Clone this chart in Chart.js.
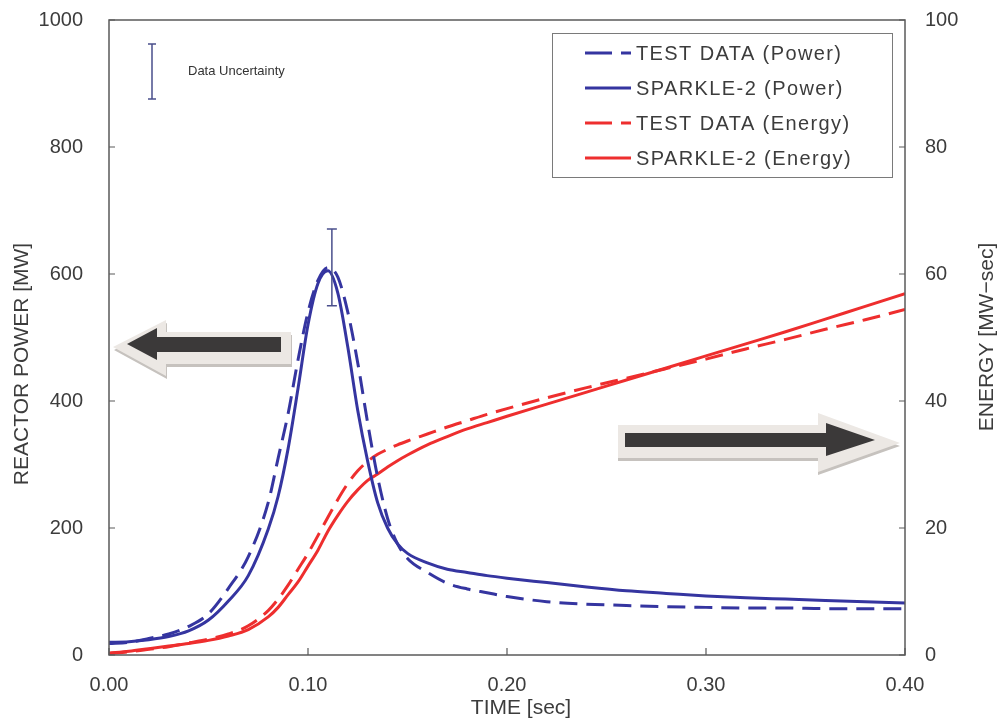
<!DOCTYPE html>
<html>
<head>
<meta charset="utf-8">
<script src="https://cdn.jsdelivr.net/npm/chart.js@4.4.1/dist/chart.umd.min.js"></script>
<style>
body{margin:0;background:#fff}
</style>
</head>
<body>
<canvas id="myChart" width="999" height="726"></canvas>
<script>
// -----------------------DADOS---------------------
const tempo = [0, 0.01, 0.02, 0.03, 0.04, 0.05, 0.06, 0.07, 0.08, 0.085, 0.09, 0.095, 0.10, 0.105, 0.11, 0.115, 0.12, 0.125, 0.13, 0.135, 0.14, 0.145, 0.15, 0.16, 0.17, 0.18, 0.19, 0.20, 0.22, 0.24, 0.26, 0.28, 0.30, 0.32, 0.34, 0.36, 0.38, 0.40]

const potTeste   = [18, 20, 26, 33, 45, 65, 105, 155, 240, 310, 380, 465, 540, 590, 610, 595, 540, 460, 365, 280, 215, 175, 152, 130, 113, 104, 98, 92, 84, 80, 78, 76, 75, 74, 74, 73, 73, 73]
const potSparkle = [20, 21, 24, 29, 38, 55, 85, 125, 198, 250, 325, 420, 520, 585, 605, 570, 485, 385, 305, 240, 200, 175, 160, 145, 135, 130, 125, 121, 114, 107, 101, 97, 93, 90, 88, 86, 84, 82]

const enTeste   = [0.2, 0.5, 0.9, 1.3, 1.9, 2.5, 3.3, 4.6, 7.0, 8.8, 11.0, 13.5, 16.0, 18.8, 21.7, 24.5, 27.0, 29.0, 30.5, 31.6, 32.4, 33.1, 33.7, 34.8, 35.9, 36.9, 37.9, 38.8, 40.5, 42.1, 43.6, 45.1, 46.6, 48.2, 49.7, 51.3, 52.8, 54.4]
const enSparkle = [0.3, 0.6, 1.0, 1.4, 1.8, 2.3, 3.0, 4.0, 6.0, 7.5, 9.5, 11.5, 14.0, 16.5, 19.5, 22.0, 24.2, 26.0, 27.5, 28.5, 29.6, 30.6, 31.5, 33.1, 34.4, 35.6, 36.6, 37.6, 39.5, 41.4, 43.3, 45.2, 47.1, 49.0, 50.9, 52.9, 54.9, 56.9]

const ticksTempo = [0, 0.1, 0.2, 0.3, 0.4]
const ticksPot   = [0, 200, 400, 600, 800, 1000]
const ticksEn    = [0, 20, 40, 60, 80, 100]

// barra de incerteza no pico
const erroT = 0.112
const erroMin = 550
const erroMax = 671

const legendas = ['TEST DATA (Power)', 'SPARKLE-2 (Power)', 'TEST DATA (Energy)', 'SPARKLE-2 (Energy)']
//---------------------------------------------------------------

const AZUL = '#3535a0'
const VERMELHO = '#ee2e2e'
const TEXTO = '#3c3c3c'
const FONTE = '"Liberation Sans", Arial, sans-serif'

function pontos(arr){
    return tempo.map((t, i) => ({x: t, y: arr[i]}))
}

function poligono(ctx, pts, cor){
    ctx.beginPath()
    ctx.moveTo(pts[0][0], pts[0][1])
    for(let i = 1; i < pts.length; i++) ctx.lineTo(pts[i][0], pts[i][1])
    ctx.closePath()
    ctx.fillStyle = cor
    ctx.fill()
}

function seta(ctx, externo, interno, dx, dy){
    poligono(ctx, externo.map(p => [p[0] + dx, p[1] + dy]), '#c6c2be')
    poligono(ctx, externo, '#ece8e4')
    poligono(ctx, interno, '#3b3939')
}

// sem padding extra dos rótulos, área do gráfico fixa
function fixarPadding(s){
    s.paddingTop = 0
    s.paddingBottom = 0
    s.paddingLeft = 0
    s.paddingRight = 0
}

const extras = {
    id: 'extras',
    beforeDatasetsDraw(chart){
        const ctx = chart.ctx
        ctx.save()
        //seta esquerda
        seta(ctx,
            [[113,347],[166,320],[166,332],[291,332],[291,364],[166,364],[166,376]],
            [[127,344],[157,328],[157,337],[281,337],[281,352],[157,352],[157,360]], 1, 3)
        //seta direita
        seta(ctx,
            [[900,443],[818,413],[818,425],[618,425],[618,458],[818,458],[818,472]],
            [[875,440],[826,423],[826,433],[625,433],[625,447],[826,447],[826,456]], 0, 3)
        ctx.restore()
    },
    afterDatasetsDraw(chart){
        const ctx = chart.ctx
        const a = chart.chartArea
        const sx = chart.scales.x, sy = chart.scales.y, sy2 = chart.scales.y2
        ctx.save()

        //moldura do gráfico
        ctx.strokeStyle = '#5a5a5a'
        ctx.lineWidth = 1.5
        ctx.strokeRect(a.left, a.top, a.right - a.left, a.bottom - a.top)

        //ticks para dentro
        ctx.lineWidth = 1.2
        ctx.beginPath()
        ticksTempo.forEach(v => {
            const px = sx.getPixelForValue(v)
            ctx.moveTo(px, a.bottom); ctx.lineTo(px, a.bottom - 7)
        })
        ticksPot.forEach(v => {
            const py = sy.getPixelForValue(v)
            ctx.moveTo(a.left, py); ctx.lineTo(a.left + 6, py)
        })
        ticksEn.forEach(v => {
            const py = sy2.getPixelForValue(v)
            ctx.moveTo(a.right, py); ctx.lineTo(a.right - 6, py)
        })
        ctx.stroke()

        //barra de erro do pico
        ctx.strokeStyle = '#4a4f8c'
        ctx.lineWidth = 1.5
        const ex = sx.getPixelForValue(erroT)
        const e1 = sy.getPixelForValue(erroMax), e2 = sy.getPixelForValue(erroMin)
        ctx.beginPath()
        ctx.moveTo(ex, e1); ctx.lineTo(ex, e2)
        ctx.moveTo(ex - 5, e1); ctx.lineTo(ex + 5, e1)
        ctx.moveTo(ex - 5, e2); ctx.lineTo(ex + 5, e2)
        ctx.stroke()

        //Data Uncertainty
        ctx.beginPath()
        ctx.moveTo(152, 44); ctx.lineTo(152, 99)
        ctx.moveTo(148, 44); ctx.lineTo(156, 44)
        ctx.moveTo(148, 99); ctx.lineTo(156, 99)
        ctx.stroke()
        ctx.fillStyle = '#333'
        ctx.font = '13px ' + FONTE
        ctx.textBaseline = 'middle'
        ctx.textAlign = 'left'
        ctx.fillText('Data Uncertainty', 188, 71)

        //legenda
        ctx.fillStyle = '#fff'
        ctx.fillRect(552, 33, 340, 144)
        ctx.strokeStyle = '#7a7a7a'
        ctx.lineWidth = 1
        ctx.strokeRect(552.5, 33.5, 340, 144)
        chart.data.datasets.forEach((ds, i) => {
            const y = 53 + i * 35
            ctx.strokeStyle = ds.borderColor
            ctx.lineWidth = 3
            ctx.beginPath()
            if(ds.borderDash && ds.borderDash.length){
                ctx.moveTo(585, y); ctx.lineTo(612, y)
                ctx.moveTo(621, y); ctx.lineTo(631, y)
            }else{
                ctx.moveTo(585, y); ctx.lineTo(631, y)
            }
            ctx.stroke()
            ctx.fillStyle = TEXTO
            ctx.font = '20px ' + FONTE
            ctx.letterSpacing = '1.4px'
            ctx.fillText(ds.label, 636, y + 1)
            ctx.letterSpacing = '0px'
        })
        ctx.restore()
    },
    afterDraw(chart){
        const ctx = chart.ctx
        ctx.save()
        ctx.fillStyle = TEXTO
        ctx.font = '21px ' + FONTE
        ctx.textAlign = 'center'
        ctx.textBaseline = 'middle'
        ctx.fillText('TIME [sec]', 521, 708)

        ctx.translate(22, 364)
        ctx.rotate(-Math.PI / 2)
        ctx.fillText('REACTOR POWER [MW]', 0, 0)
        ctx.restore()

        ctx.save()
        ctx.fillStyle = TEXTO
        ctx.font = '21px ' + FONTE
        ctx.textAlign = 'center'
        ctx.textBaseline = 'middle'
        ctx.translate(987, 337)
        ctx.rotate(-Math.PI / 2)
        ctx.fillText('ENERGY [MW\u2212sec]', 0, 0)
        ctx.restore()
    }
}

const ctx = document.getElementById('myChart')

new Chart(ctx, {
    type: 'line',
    data: {
        datasets: [{
            label: legendas[0],
            data: pontos(potTeste),
            borderColor: AZUL,
            borderDash: [18, 9],
            yAxisID: 'y'
        },{
            label: legendas[1],
            data: pontos(potSparkle),
            borderColor: AZUL,
            yAxisID: 'y'
        },{
            label: legendas[2],
            data: pontos(enTeste),
            borderColor: VERMELHO,
            borderDash: [18, 9],
            yAxisID: 'y2'
        },{
            label: legendas[3],
            data: pontos(enSparkle),
            borderColor: VERMELHO,
            yAxisID: 'y2'
        }]
    },
    options: {
        responsive: false,
        animation: false,
        layout: {padding: {top: 20}},
        elements: {
            point: {radius: 0},
            line: {borderWidth: 3, cubicInterpolationMode: 'monotone', fill: false}
        },
        plugins: {
            legend: {display: false},
            tooltip: {enabled: false}
        },
        scales: {
            x: {
                type: 'linear',
                min: 0,
                max: 0.4,
                afterBuildTicks: s => { s.ticks = ticksTempo.map(v => ({value: v})) },
                afterFit: s => { s.height = 71; fixarPadding(s) },
                grid: {display: false, drawTicks: false},
                border: {display: false},
                ticks: {
                    callback: v => v.toFixed(2),
                    font: {size: 20, family: FONTE},
                    color: TEXTO,
                    padding: 18,
                    maxRotation: 0
                }
            },
            y: {
                position: 'left',
                min: 0,
                max: 1000,
                afterBuildTicks: s => { s.ticks = ticksPot.map(v => ({value: v})) },
                afterFit: s => { s.width = 109; fixarPadding(s) },
                grid: {display: false, drawTicks: false},
                border: {display: false},
                ticks: {callback: v => String(v), font: {size: 20, family: FONTE}, color: TEXTO, padding: 26}
            },
            y2: {
                position: 'right',
                min: 0,
                max: 100,
                afterBuildTicks: s => { s.ticks = ticksEn.map(v => ({value: v})) },
                afterFit: s => { s.width = 94; fixarPadding(s) },
                grid: {display: false, drawTicks: false},
                border: {display: false},
                ticks: {callback: v => String(v), font: {size: 20, family: FONTE}, color: TEXTO, padding: 20}
            }
        }
    },
    plugins: [extras]
});
</script>
</body>
</html>
